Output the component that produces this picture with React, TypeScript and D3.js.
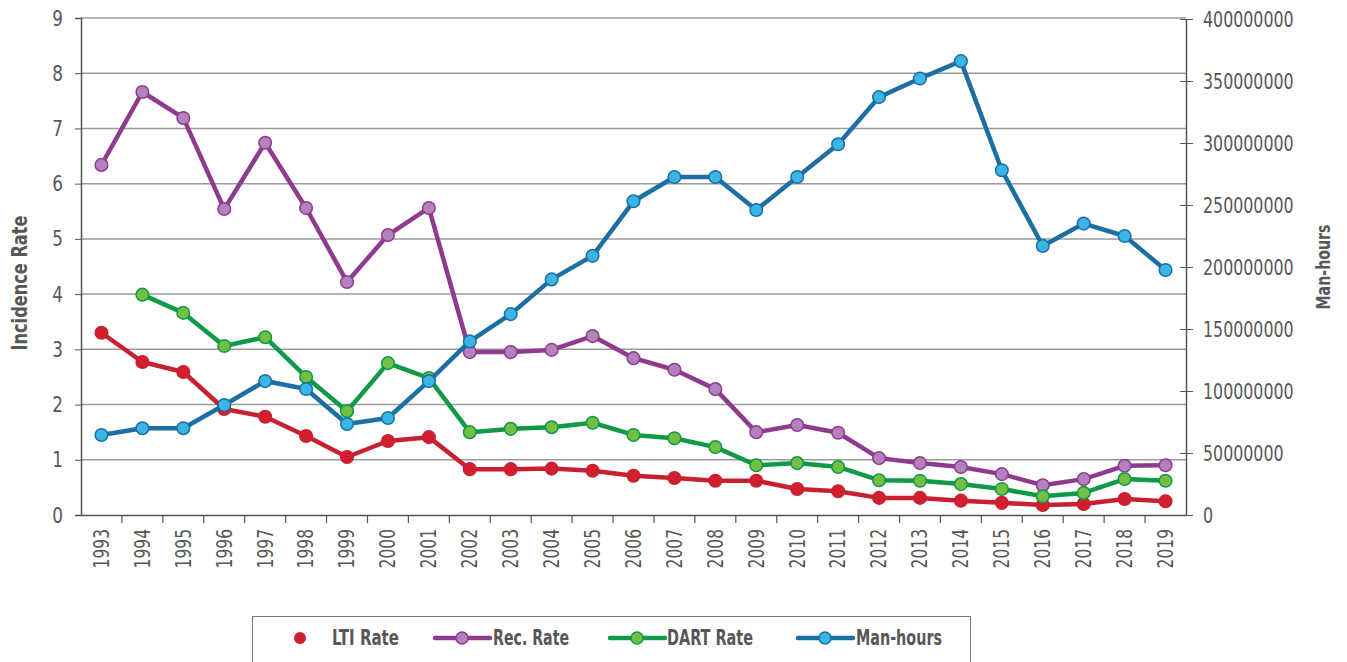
import React, { useEffect, useRef } from 'react';
import * as d3 from 'd3';

const years = ['1993', '1994', '1995', '1996', '1997', '1998', '1999', '2000', '2001', '2002', '2003', '2004', '2005', '2006', '2007', '2008', '2009', '2010', '2011', '2012', '2013', '2014', '2015', '2016', '2017', '2018', '2019'];

const ltiRate = [3.3, 2.77, 2.59, 1.92, 1.78, 1.43, 1.05, 1.34, 1.41, 0.83, 0.83, 0.84, 0.8, 0.71, 0.67, 0.62, 0.62, 0.47, 0.43, 0.31, 0.31, 0.26, 0.22, 0.18, 0.2, 0.29, 0.25];
const recRate = [6.34, 7.66, 7.19, 5.54, 6.74, 5.56, 4.22, 5.07, 5.56, 2.95, 2.95, 2.99, 3.24, 2.84, 2.63, 2.28, 1.5, 1.63, 1.49, 1.03, 0.94, 0.87, 0.74, 0.54, 0.65, 0.89, 0.9];
const dartRate = [null, 3.99, 3.66, 3.06, 3.22, 2.5, 1.88, 2.75, 2.48, 1.5, 1.56, 1.59, 1.67, 1.45, 1.39, 1.23, 0.9, 0.94, 0.87, 0.63, 0.62, 0.56, 0.47, 0.34, 0.4, 0.65, 0.62];
const manHours = [64.5e6, 70e6, 70e6, 88.7e6, 108e6, 101.6e6, 73.4e6, 78.2e6, 108e6, 140e6, 162e6, 190e6, 209e6, 253e6, 272.6e6, 272.6e6, 246e6, 272.6e6, 299e6, 337e6, 352e6, 366e6, 278e6, 217e6, 235e6, 225e6, 197.6e6];

const leftTicks = [0, 1, 2, 3, 4, 5, 6, 7, 8, 9];
const rightTicks = [0, 50e6, 100e6, 150e6, 200e6, 250e6, 300e6, 350e6, 400e6];

const FONT = '"DejaVu Sans Condensed", "DejaVu Sans", sans-serif';
const TEXT = '#575757';

// squeeze text horizontally, the original uses a narrow typeface
function condense(sel: any, factor: number) {
  sel.each(function (this: SVGTextElement) {
    const w = this.getComputedTextLength();
    if (w > 0) {
      d3.select(this).attr('textLength', w * factor).attr('lengthAdjust', 'spacingAndGlyphs');
    }
  });
}

const App = () => {
  const ref = useRef<SVGSVGElement>(null);

  useEffect(() => {
    const width = 1347;
    const height = 662;
    const margin = { top: 18, right: 161, bottom: 147, left: 81 };
    const svg = d3.select(ref.current);
    svg.selectAll('*').remove();

    const x = d3.scaleBand().domain(years).range([margin.left, width - margin.right]);
    const y = d3.scaleLinear().domain([0, 9]).range([height - margin.bottom, margin.top]);
    const y2 = d3.scaleLinear().domain([0, 400e6]).range([height - margin.bottom, margin.top + 1]);
    const cx = (d: string) => (x(d) as number) + x.bandwidth() / 2;

    // gridlines
    svg.append('g')
      .selectAll('line')
      .data(leftTicks.slice(1))
      .join('line')
      .attr('x1', margin.left)
      .attr('x2', width - margin.right)
      .attr('y1', (d) => y(d))
      .attr('y2', (d) => y(d))
      .attr('stroke', '#9a9a9a')
      .attr('stroke-width', 1.5);

    // left axis
    const left = svg.append('g')
      .attr('transform', `translate(${margin.left},0)`)
      .call(d3.axisLeft(y).tickValues(leftTicks).tickSize(6).tickPadding(12));
    left.select('.domain').attr('stroke', '#555').attr('stroke-width', 1.5);
    left.selectAll('line').attr('stroke', '#555');
    left.selectAll('text').attr('font-family', FONT).attr('font-size', 22).attr('fill', TEXT);
    condense(left.selectAll('text'), 0.85);

    // right axis
    const right = svg.append('g')
      .attr('transform', `translate(${width - margin.right},0)`)
      .call(d3.axisRight(y2).tickValues(rightTicks).tickFormat(d3.format('d')).tickSizeInner(7).tickSizeOuter(0).tickPadding(10));
    right.select('.domain').attr('stroke', '#555').attr('stroke-width', 1.5);
    right.selectAll('.tick line').attr('stroke', '#555').attr('x1', -6);
    right.selectAll('text').attr('font-family', FONT).attr('font-size', 22).attr('fill', TEXT);
    condense(right.selectAll('text'), 0.8);

    // bottom axis
    const bottom = svg.append('g')
      .attr('transform', `translate(0,${height - margin.bottom})`)
      .call(d3.axisBottom(x).tickSize(0).tickPadding(0));
    bottom.select('.domain').attr('stroke', '#555').attr('stroke-width', 1.5);
    bottom.selectAll('.tick text')
      .attr('font-family', FONT)
      .attr('font-size', 21)
      .attr('fill', TEXT)
      .attr('text-anchor', 'end')
      .attr('dy', '0.35em')
      .attr('transform', 'translate(0,14) rotate(-90)');
    condense(bottom.selectAll('.tick text'), 0.82);
    bottom.append('g')
      .selectAll('line')
      .data(years.slice(1))
      .join('line')
      .attr('x1', (d) => x(d) as number)
      .attr('x2', (d) => x(d) as number)
      .attr('y1', 0)
      .attr('y2', 8)
      .attr('stroke', '#555')
      .attr('stroke-width', 1.2);

    // axis titles
    const t1 = svg.append('text')
      .attr('transform', `translate(27,283) rotate(-90)`)
      .attr('text-anchor', 'middle')
      .attr('font-family', FONT)
      .attr('font-weight', 'bold')
      .attr('font-size', 21)
      .attr('fill', TEXT)
      .text('Incidence Rate');
    t1.attr('textLength', 135).attr('lengthAdjust', 'spacingAndGlyphs');
    const t2 = svg.append('text')
      .attr('transform', `translate(1330,267) rotate(-90)`)
      .attr('text-anchor', 'middle')
      .attr('font-family', FONT)
      .attr('font-weight', 'bold')
      .attr('font-size', 20)
      .attr('fill', TEXT)
      .text('Man-hours');
    t2.attr('textLength', 85).attr('lengthAdjust', 'spacingAndGlyphs');

    const series = [
      { name: 'LTI Rate', values: ltiRate, scale: y, stroke: '#c8202f', fill: '#d21f30', mStroke: '#c8202f' },
      { name: 'Rec. Rate', values: recRate, scale: y, stroke: '#8e3b8f', fill: '#b382bd', mStroke: '#8e3b8f' },
      { name: 'DART Rate', values: dartRate, scale: y, stroke: '#0f9a48', fill: '#72bf44', mStroke: '#0f9a48' },
      { name: 'Man-hours', values: manHours, scale: y2, stroke: '#1b6fa1', fill: '#3bb4e6', mStroke: '#1b6fa1' },
    ];

    series.forEach((s) => {
      const pts = years
        .map((yr, i) => ({ yr, v: s.values[i] }))
        .filter((p) => p.v !== null) as { yr: string; v: number }[];
      const line = d3.line<{ yr: string; v: number }>()
        .x((p) => cx(p.yr))
        .y((p) => s.scale(p.v));
      svg.append('path')
        .datum(pts)
        .attr('d', line)
        .attr('fill', 'none')
        .attr('stroke', s.stroke)
        .attr('stroke-width', 4.5)
        .attr('stroke-linejoin', 'round');
      svg.append('g')
        .selectAll('circle')
        .data(pts)
        .join('circle')
        .attr('cx', (p) => cx(p.yr))
        .attr('cy', (p) => s.scale(p.v))
        .attr('r', 6.3)
        .attr('fill', s.fill)
        .attr('stroke', s.mStroke)
        .attr('stroke-width', 1.5);
    });

    // legend
    const lg = svg.append('g');
    lg.append('rect')
      .attr('x', 252.5)
      .attr('y', 616.5)
      .attr('width', 718)
      .attr('height', 60)
      .attr('fill', 'white')
      .attr('stroke', '#777')
      .attr('stroke-width', 1);
    const swatchX = [300, 435, 610, 798];
    const labelX = [332, 493, 667, 856];
    const labelW = [67, 76, 86, 86];
    series.forEach((s, i) => {
      const lx = swatchX[i];
      if (i === 0) {
        lg.append('circle').attr('cx', lx).attr('cy', 638).attr('r', 6).attr('fill', s.fill);
      } else {
        lg.append('line')
          .attr('x1', lx).attr('x2', lx + 55)
          .attr('y1', 638).attr('y2', 638)
          .attr('stroke', s.stroke).attr('stroke-width', 4.5).attr('stroke-linecap', 'round');
        lg.append('circle').attr('cx', lx + 27).attr('cy', 638).attr('r', 6)
          .attr('fill', s.fill).attr('stroke', s.mStroke).attr('stroke-width', 1.5);
      }
      lg.append('text')
        .attr('x', labelX[i])
        .attr('y', 638)
        .attr('dy', '0.35em')
        .attr('font-family', FONT)
        .attr('font-weight', 'bold')
        .attr('font-size', 21)
        .attr('fill', TEXT)
        .attr('textLength', labelW[i])
        .attr('lengthAdjust', 'spacingAndGlyphs')
        .text(s.name);
    });
  }, []);

  return (
    <div style={{ position: 'absolute', left: 0, top: 0 }}>
      <svg ref={ref} width={1347} height={662} style={{ display: 'block', background: 'white' }} />
    </div>
  );
};

export default App;
